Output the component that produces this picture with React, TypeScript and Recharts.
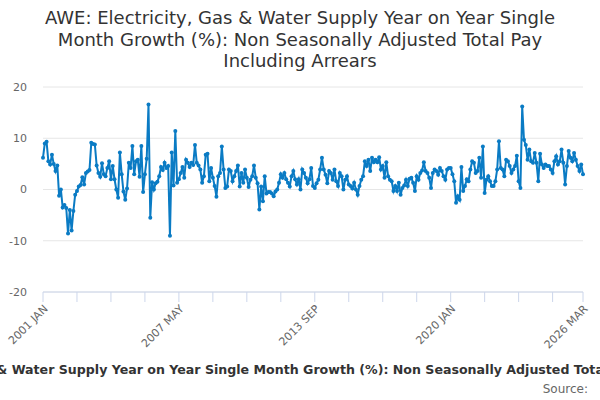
import { LineChart, Line, XAxis, YAxis, CartesianGrid } from 'recharts';

const TITLE =
    'AWE: Electricity, Gas & Water Supply Year on Year Single Month Growth (%): Non Seasonally Adjusted Total Pay Including Arrears';

const MONTHS = ['JAN', 'FEB', 'MAR', 'APR', 'MAY', 'JUN', 'JUL', 'AUG', 'SEP', 'OCT', 'NOV', 'DEC'];
const START_YEAR = 2001;

// % growth, one row per year
const growth2001to2005 = [
    6.2, 9.0, 9.3, 5.5, 4.9, 6.8, 5.0, 3.6, 4.7, -1.2, 0.0, -3.5,
    -3.0, -3.6, -8.6, -4.0, -8.0, -4.2, -1.0, -0.3, 0.6, 0.9, 2.4, 1.0,
    3.2, 3.5, 3.8, 9.1, 8.9, 8.8, 4.7, 3.2, 2.5, 5.1, 3.0, 2.6,
    4.2, 5.5, 2.0, 4.6, 2.0, 0.0, -1.6, 7.2, 3.0, -0.4, -2.0, 0.2,
    5.2, 4.2, 8.5, 3.0, 5.5, 5.8, 2.5, 8.5, -0.5, 3.0, 6.0, 16.6,
];
const growth2006to2010 = [
    -5.5, 1.4, 0.0, 1.2, 1.5, 2.6, 4.4, 3.8, 5.2, 4.2, 4.6, -9.0,
    7.2, 0.8, 11.4, 1.3, 2.0, 3.2, 4.4, 2.3, 5.8, 5.2, 4.4, 5.2,
    4.8, 8.7, 5.2, 4.7, 3.9, 1.3, 2.6, 6.8, 7.0, 1.6, 4.2, 2.3,
    0.7, -1.4, 2.6, 3.2, 8.4, 3.9, 0.3, 0.6, 3.9, 3.6, 1.6, 2.6,
    3.6, 4.7, 0.6, 3.2, 1.3, 3.9, 2.3, 0.5, 1.9, 2.6, 4.7, 2.3,
];
const growth2011to2015 = [
    1.2, -3.9, 0.6, -2.3, 2.6, -0.8, -0.5, -0.5, -0.8, -1.3, -0.4, 0.0,
    1.3, 3.0, 2.3, 3.2, 2.0, 1.3, 0.6, 2.6, 3.6, 2.0, 1.0, 2.0,
    0.0, 3.9, 3.2, 2.3, 1.2, 2.0, 4.2, 0.7, 0.3, 1.2, 1.9, 3.9,
    6.2, 3.9, 2.9, 1.2, 3.6, 3.2, 1.9, 3.9, 1.6, 0.7, 3.2, 2.6,
    0.0, 1.9, 2.6, 1.0, 0.7, 0.2, 1.3, 0.0, -1.0, 0.7, 1.9, 2.6,
];
const growth2016to2020 = [
    5.5, 4.6, 5.8, 3.6, 6.2, 5.3, 5.8, 5.3, 6.3, 3.9, 4.6, 2.3,
    5.3, 2.6, 1.9, 1.6, -0.3, 0.7, -0.3, 1.3, -1.0, 0.3, 0.8, 1.9,
    0.7, 2.1, 2.3, 1.3, -0.3, 2.6, 1.9, 3.2, 3.7, 5.3, 3.6, 3.2,
    2.3, 0.3, 3.2, 3.9, 3.6, 2.9, 4.2, 3.6, 2.6, 1.9, 3.9, 4.2,
    4.2, 3.0, 1.6, -2.6, -1.3, -2.0, 4.4, -0.3, 0.7, 2.0, 1.6, 3.9,
];
const growth2021to2026 = [
    5.5, 5.2, 3.2, 3.6, 6.2, 2.3, 8.4, -0.7, 1.9, 2.6, 1.6, 0.7,
    0.7, 1.6, 3.9, 9.4, 4.2, 3.9, 2.6, 5.8, 5.5, 4.6, 3.2, 3.9,
    4.6, 6.6, 1.6, 0.3, 16.2, 9.7, 8.7, 5.8, 7.8, 5.5, 5.2, 7.1,
    5.2, 1.6, 7.0, 4.9, 4.2, 4.9, 4.6, 4.6, 3.9, 3.2, 5.5, 6.5,
    4.9, 5.5, 7.8, 5.2, 1.0, 4.6, 7.5, 6.2, 5.5, 7.1, 5.8, 4.6,
    3.6, 4.9, 3.0,
];

const Y_TICKS = [-20, -10, 0, 10, 20];
const X_TICKS = [0, 19, 38, 57, 76, 95, 114, 133, 152, 171, 190, 209, 228, 247, 266, 285, 302];
const X_LABELS = ['2001 JAN', '2007 MAY', '2013 SEP', '2020 JAN', '2026 MAR'];

const values = [
    ...growth2001to2005,
    ...growth2006to2010,
    ...growth2011to2015,
    ...growth2016to2020,
    ...growth2021to2026,
];

const monthLabel = (i: number) =>
    `${START_YEAR + Math.floor(i / 12)} ${MONTHS[i % 12]}`;

const data = values.map((v, i) => ({ i, v }));

const FONT = '"DejaVu Sans", sans-serif';

export default function App() {
    return (
        <div
            style={{
                position: 'absolute',
                left: 0,
                top: 0,
                width: 600,
                height: 400,
                overflow: 'hidden',
                background: '#fff',
                fontFamily: FONT,
            }}
        >
            <div
                style={{
                    position: 'absolute',
                    left: 40,
                    width: 520,
                    top: 7,
                    textAlign: 'center',
                    fontSize: 18,
                    lineHeight: '21.5px',
                    color: '#333',
                }}
            >
                {TITLE}
            </div>
            <div style={{ position: 'absolute', left: 0, top: 0 }}>
                <LineChart
                    width={600}
                    height={400}
                    data={data}
                    margin={{ top: 87, right: 17, bottom: 48, left: 0 }}
                >
                    <CartesianGrid vertical={false} stroke="#e6e6e6" />
                    <XAxis
                        dataKey="i"
                        type="number"
                        domain={[0, 302]}
                        ticks={X_TICKS}
                        interval={0}
                        height={60}
                        stroke="#ccd6eb"
                        tickSize={10}
                        angle={-45}
                        textAnchor="end"
                        tick={{ fill: '#666', fontSize: 11, fontFamily: FONT }}
                        tickFormatter={(i: number) => {
                            const s = monthLabel(i);
                            return X_LABELS.includes(s) ? s : '';
                        }}
                    />
                    <YAxis
                        width={43}
                        domain={[-20, 20]}
                        ticks={Y_TICKS}
                        axisLine={false}
                        tickLine={false}
                        tickMargin={10}
                        tick={{ fill: '#666', fontSize: 11, fontFamily: FONT }}
                    />
                    <Line
                        dataKey="v"
                        stroke="#0a7bc4"
                        strokeWidth={2}
                        dot={{ r: 2, fill: '#0a7bc4', stroke: '#0a7bc4', strokeWidth: 0 }}
                        isAnimationActive={false}
                    />
                </LineChart>
            </div>
            <div
                style={{
                    position: 'absolute',
                    left: 305,
                    top: 362,
                    transform: 'translateX(-50%)',
                    whiteSpace: 'nowrap',
                    fontSize: 12.6,
                    fontWeight: 'bold',
                    color: '#333',
                }}
            >
                {TITLE}
            </div>
            <div
                style={{
                    position: 'absolute',
                    right: 12,
                    top: 382,
                    fontSize: 12,
                    color: '#666',
                }}
            >
                Source:
            </div>
        </div>
    );
}
